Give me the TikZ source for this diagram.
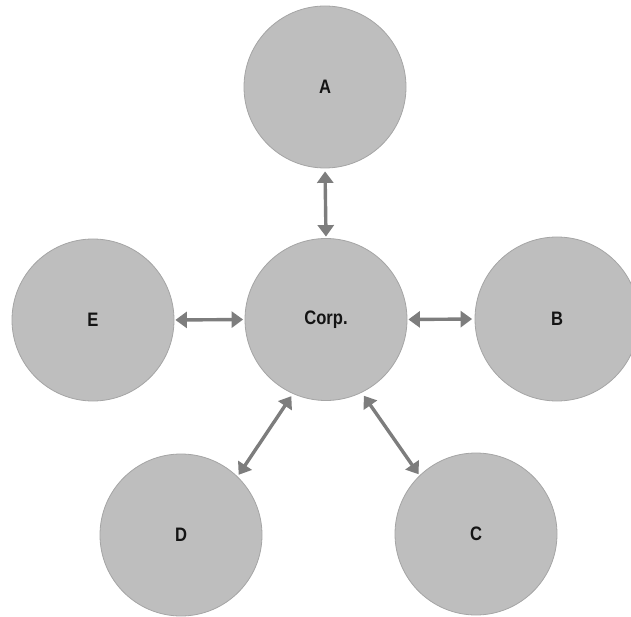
\documentclass[tikz,border=0pt]{standalone}
\usepackage{fontspec}
\usepackage{graphicx}
\setmainfont{Liberation Sans}
\usetikzlibrary{arrows.meta}
\definecolor{circfill}{RGB}{190,190,190}
\definecolor{circline}{RGB}{165,165,165}
\definecolor{arrcol}{RGB}{125,125,125}
\definecolor{txtcol}{RGB}{20,20,20}
\newcommand{\narrowlabel}[1]{\scalebox{0.85}[1]{#1}}
\begin{document}
\begin{tikzpicture}[x=1pt,y=-1pt,
  bubble/.style={circle,fill=circfill,draw=circline,line width=0.8pt,
    minimum size=162pt,inner sep=0pt,text=txtcol,
    font=\fontsize{19.5}{22}\selectfont\bfseries},
  link/.style={draw=arrcol,line width=3.4pt,
    {Triangle[length=11.5pt,width=16pt]}-{Triangle[length=11.5pt,width=16pt]}}]
\useasboundingbox (0,0) rectangle (631,617);
\node[bubble] (A) at (325,87) {\narrowlabel{A}};
\node[bubble] (Corp) at (326,319.5) {\narrowlabel{Corp.}};
\node[bubble] (E) at (93,320) {\narrowlabel{E}};
\node[bubble,minimum size=164pt] (B) at (557,319) {\narrowlabel{B}};
\node[bubble] (D) at (181,535) {\narrowlabel{D}};
\node[bubble] (C) at (476,534) {\narrowlabel{C}};
\draw[link,shorten <=3pt,shorten >=1.5pt] (A.south) -- (Corp.north);
\draw[link,shorten <=1pt,shorten >=1.5pt] (E.east) -- (Corp.west);
\draw[link,shorten <=1pt,shorten >=2.5pt] (Corp.east) -- (B.west);
\draw[link,shorten <=2.8pt,shorten >=2pt] (Corp.246) -- (D.46);
\draw[link,shorten <=3.8pt,shorten >=1.5pt] (Corp.296) -- (C.134);
\end{tikzpicture}
\end{document}
